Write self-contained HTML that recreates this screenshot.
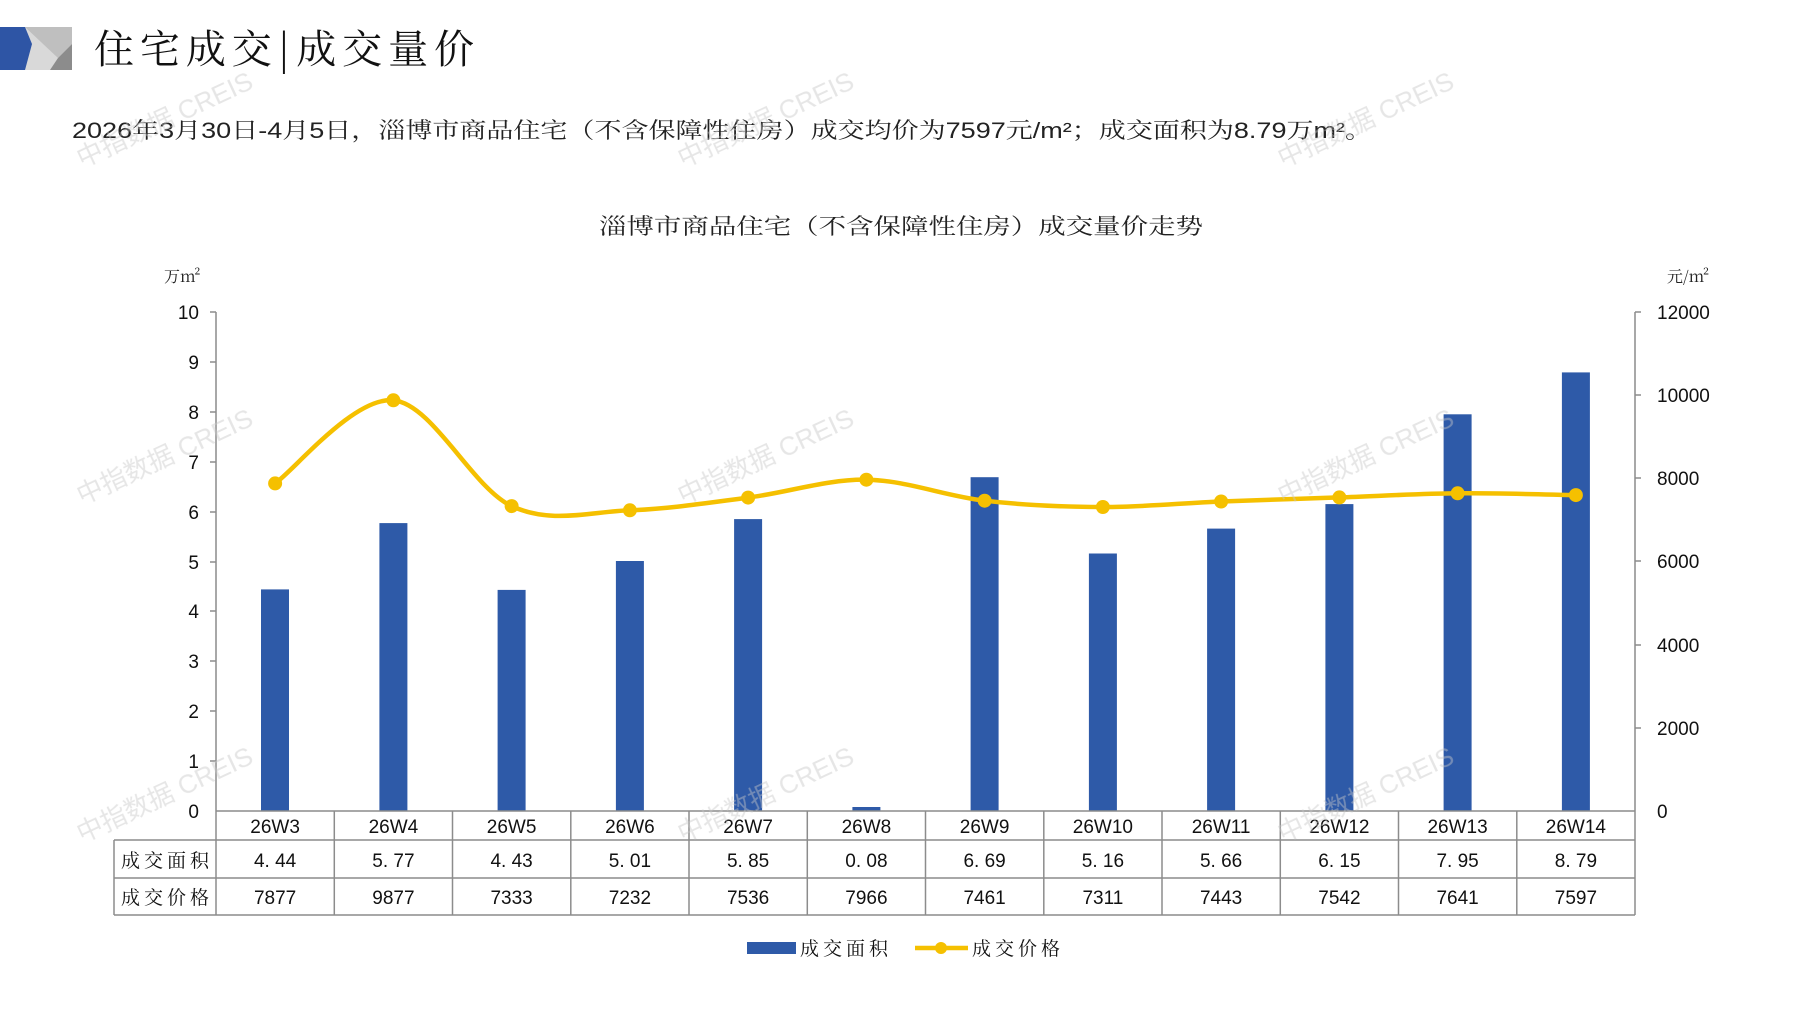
<!DOCTYPE html>
<html><head><meta charset="utf-8"><style>
html,body{margin:0;padding:0;background:#fff;}
svg{display:block;font-family:"Liberation Sans","Noto Sans CJK SC",sans-serif;}
.cn{font-family:"Noto Serif CJK SC","Noto Sans CJK SC",serif;}
.sub{font-family:"Liberation Sans","Noto Serif CJK SC",sans-serif;}
.wm{font-family:"Liberation Sans","Noto Sans CJK SC",sans-serif;fill:#c8c8c8;font-size:26px;opacity:0.45;}
</style></head><body>
<svg width="1797" height="1010" viewBox="0 0 1797 1010" xmlns="http://www.w3.org/2000/svg">
<polygon points="25,27 72,27 72,70 24,70" fill="#d9d9d9"/>
<polygon points="25,27 72,27 72,44 58,58" fill="#bfbfbf"/>
<polygon points="72,44 72,70 50,70 58,58" fill="#8c8c8c"/>
<polygon points="0,27 25,27 32,44 25,70 0,70" fill="#2e55a5"/>
<text x="94" y="63" font-size="40" class="cn" fill="#111" textLength="380">住宅成交|成交量价</text>
<text x="72" y="138" font-size="22" class="sub" fill="#222" textLength="1300" lengthAdjust="spacingAndGlyphs">2026年3月30日-4月5日，淄博市商品住宅（不含保障性住房）成交均价为7597元/m²；成交面积为8.79万m²。</text>
<text x="599" y="234" font-size="22" class="cn" fill="#222" textLength="604" lengthAdjust="spacingAndGlyphs">淄博市商品住宅（不含保障性住房）成交量价走势</text>
<text x="164" y="282" font-size="16" class="cn" fill="#222">万m²</text>
<text x="1667" y="282" font-size="16" class="cn" fill="#222">元/m²</text>

<g stroke="#8c8c8c" stroke-width="1.5" fill="none">
<line x1="216" y1="312" x2="216" y2="811"/>
<line x1="1635" y1="312" x2="1635" y2="811"/>
<line x1="210" y1="312" x2="216" y2="312"/><line x1="210" y1="362" x2="216" y2="362"/><line x1="210" y1="412" x2="216" y2="412"/><line x1="210" y1="462" x2="216" y2="462"/><line x1="210" y1="512" x2="216" y2="512"/><line x1="210" y1="562" x2="216" y2="562"/><line x1="210" y1="611" x2="216" y2="611"/><line x1="210" y1="661" x2="216" y2="661"/><line x1="210" y1="711" x2="216" y2="711"/><line x1="210" y1="761" x2="216" y2="761"/>
<line x1="1635" y1="312" x2="1641" y2="312"/><line x1="1635" y1="395" x2="1641" y2="395"/><line x1="1635" y1="478" x2="1641" y2="478"/><line x1="1635" y1="561" x2="1641" y2="561"/><line x1="1635" y1="645" x2="1641" y2="645"/><line x1="1635" y1="728" x2="1641" y2="728"/>
</g>
<g font-size="19" fill="#111" text-anchor="end">
<text x="199" y="319">10</text><text x="199" y="369">9</text><text x="199" y="419">8</text><text x="199" y="469">7</text><text x="199" y="519">6</text><text x="199" y="569">5</text><text x="199" y="618">4</text><text x="199" y="668">3</text><text x="199" y="718">2</text><text x="199" y="768">1</text><text x="199" y="818">0</text>
</g>
<g font-size="19" fill="#111">
<text x="1657" y="319">12000</text><text x="1657" y="402">10000</text><text x="1657" y="485">8000</text><text x="1657" y="568">6000</text><text x="1657" y="652">4000</text><text x="1657" y="735">2000</text><text x="1657" y="818">0</text>
</g>

<g fill="#2e5aa8">
<rect x="261" y="589.4" width="28" height="221.6"/>
<rect x="379.4" y="523.1" width="28" height="287.9"/>
<rect x="497.6" y="589.9" width="28" height="221.1"/>
<rect x="615.9" y="561" width="28" height="250"/>
<rect x="734.1" y="519.1" width="28" height="291.9"/>
<rect x="852.4" y="807" width="28" height="4"/>
<rect x="970.6" y="477.2" width="28" height="333.8"/>
<rect x="1088.9" y="553.5" width="28" height="257.5"/>
<rect x="1207.1" y="528.6" width="28" height="282.4"/>
<rect x="1325.4" y="504.1" width="28" height="306.9"/>
<rect x="1443.6" y="414.3" width="28" height="396.7"/>
<rect x="1561.9" y="372.4" width="28" height="438.6"/>
</g>

<path id="ln" fill="none" stroke="#f5c000" stroke-width="4.5" d=""/>
<g id="dots" fill="#f5c000"></g>

<g stroke="#8c8c8c" stroke-width="1.5" fill="none">
<line x1="216" y1="811" x2="1635" y2="811"/>
<line x1="114" y1="840" x2="1635" y2="840"/>
<line x1="114" y1="878" x2="1635" y2="878"/>
<line x1="114" y1="915" x2="1635" y2="915"/>
<line x1="114" y1="840" x2="114" y2="915"/>
<line x1="216" y1="811" x2="216" y2="915"/>
<line x1="334.3" y1="811" x2="334.3" y2="915"/><line x1="452.5" y1="811" x2="452.5" y2="915"/><line x1="570.8" y1="811" x2="570.8" y2="915"/><line x1="689" y1="811" x2="689" y2="915"/><line x1="807.3" y1="811" x2="807.3" y2="915"/><line x1="925.5" y1="811" x2="925.5" y2="915"/><line x1="1043.8" y1="811" x2="1043.8" y2="915"/><line x1="1162" y1="811" x2="1162" y2="915"/><line x1="1280.3" y1="811" x2="1280.3" y2="915"/><line x1="1398.5" y1="811" x2="1398.5" y2="915"/><line x1="1516.8" y1="811" x2="1516.8" y2="915"/><line x1="1635" y1="811" x2="1635" y2="915"/>
</g>
<g font-size="19" fill="#111" text-anchor="middle">
<text x="275.1" y="833">26W3</text><text x="393.4" y="833">26W4</text><text x="511.6" y="833">26W5</text><text x="629.9" y="833">26W6</text><text x="748.1" y="833">26W7</text><text x="866.4" y="833">26W8</text><text x="984.6" y="833">26W9</text><text x="1102.9" y="833">26W10</text><text x="1221.1" y="833">26W11</text><text x="1339.4" y="833">26W12</text><text x="1457.6" y="833">26W13</text><text x="1575.9" y="833">26W14</text>
<text x="275.1" y="867">4. 44</text><text x="393.4" y="867">5. 77</text><text x="511.6" y="867">4. 43</text><text x="629.9" y="867">5. 01</text><text x="748.1" y="867">5. 85</text><text x="866.4" y="867">0. 08</text><text x="984.6" y="867">6. 69</text><text x="1102.9" y="867">5. 16</text><text x="1221.1" y="867">5. 66</text><text x="1339.4" y="867">6. 15</text><text x="1457.6" y="867">7. 95</text><text x="1575.9" y="867">8. 79</text>
<text x="275.1" y="904">7877</text><text x="393.4" y="904">9877</text><text x="511.6" y="904">7333</text><text x="629.9" y="904">7232</text><text x="748.1" y="904">7536</text><text x="866.4" y="904">7966</text><text x="984.6" y="904">7461</text><text x="1102.9" y="904">7311</text><text x="1221.1" y="904">7443</text><text x="1339.4" y="904">7542</text><text x="1457.6" y="904">7641</text><text x="1575.9" y="904">7597</text>
</g>
<g font-size="19" fill="#111" class="cn" text-anchor="middle">
<text x="165" y="867" textLength="88">成交面积</text>
<text x="165" y="904" textLength="88">成交价格</text>
</g>

<rect x="747" y="942" width="49" height="12" fill="#2e5aa8"/>
<text x="800" y="955" font-size="19" class="cn" fill="#111" textLength="88">成交面积</text>
<line x1="915" y1="948" x2="968" y2="948" stroke="#f5c000" stroke-width="4.5"/>
<circle cx="941" cy="948" r="6" fill="#f5c000"/>
<text x="972" y="955" font-size="19" class="cn" fill="#111" textLength="88">成交价格</text>

<g class="wm">
<text transform="translate(82,168) rotate(-25)">中指数据 CREIS</text>
<text transform="translate(683,168) rotate(-25)">中指数据 CREIS</text>
<text transform="translate(1283,168) rotate(-25)">中指数据 CREIS</text>
<text transform="translate(82,505) rotate(-25)">中指数据 CREIS</text>
<text transform="translate(683,505) rotate(-25)">中指数据 CREIS</text>
<text transform="translate(1283,505) rotate(-25)">中指数据 CREIS</text>
<text transform="translate(82,843) rotate(-25)">中指数据 CREIS</text>
<text transform="translate(683,843) rotate(-25)">中指数据 CREIS</text>
<text transform="translate(1283,843) rotate(-25)">中指数据 CREIS</text>
</g>
</svg>
<script>
(function(){
var ys=[483.4,400.3,506.1,510.3,497.6,479.7,500.7,507.0,501.5,497.4,493.3,495.1];
var p=ys.map(function(y,i){return [216+118.25*(i+0.5),y];});
var d="M"+p[0][0]+","+p[0][1];
for(var i=0;i<p.length-1;i++){
var p0=p[i-1]||p[i],p1=p[i],p2=p[i+1],p3=p[i+2]||p[i+1];
var c1=[p1[0]+(p2[0]-p0[0])/6,p1[1]+(p2[1]-p0[1])/6];
var c2=[p2[0]-(p3[0]-p1[0])/6,p2[1]-(p3[1]-p1[1])/6];
d+=" C"+c1[0]+","+c1[1]+" "+c2[0]+","+c2[1]+" "+p2[0]+","+p2[1];
}
document.getElementById("ln").setAttribute("d",d);
var g=document.getElementById("dots");
p.forEach(function(q){var c=document.createElementNS("http://www.w3.org/2000/svg","circle");c.setAttribute("cx",q[0]);c.setAttribute("cy",q[1]);c.setAttribute("r",7);g.appendChild(c);});
})();
</script>
</body></html>
